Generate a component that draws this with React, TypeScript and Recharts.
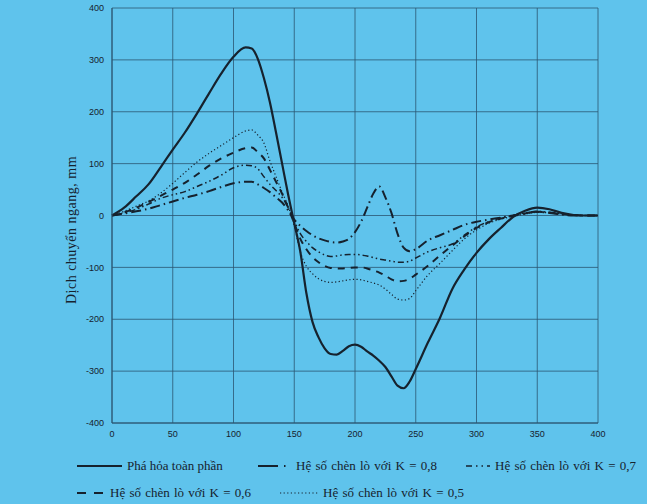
import { CartesianGrid, Line, LineChart, XAxis, YAxis, Label } from "recharts";

const xValues = [
  0, 10, 20, 30, 40, 50, 60, 70, 80, 90, 100,
  110, 115, 120, 125, 130, 135, 140, 145, 150, 155, 160, 165, 170, 175, 180,
  185, 190, 195, 200, 205, 210, 215, 220, 225, 230, 235, 240, 245, 250,
  260, 270, 280, 290, 300, 310, 320, 330, 340, 350, 360, 370, 380, 390, 400,
];

const fullCaving = [
  0, 15, 37, 60, 93, 127, 160, 197, 236, 274, 306,
  324, 322, 302, 265, 218, 160, 100, 40, -15, -70, -150, -205, -235, -256, -267,
  -268, -261, -252, -249, -253, -262, -270, -280, -292, -310, -328, -333, -320, -296,
  -245, -197, -142, -104, -72, -46, -24, -3, 9, 15, 12, 5, 1, 0, 0,
];

const k08 = [
  0, 4, 8, 13, 20, 27, 34, 40, 47, 55, 62,
  65, 65, 60, 53, 45, 35, 25, 10, -8, -20, -30, -38, -44, -48, -51,
  -52, -50, -45, -32, -12, 15, 42, 56, 35, 5, -35, -62, -69, -65,
  -48, -38, -28, -18, -12, -8, -4, 0, 4, 7, 5, 2, 0, 0, 0,
];

const k07 = [
  0, 5, 12, 22, 33, 40, 46, 56, 66, 78, 92,
  97, 96, 90, 75, 60, 48, 35, 15, -10, -35, -50, -62, -70, -76, -79,
  -78, -76, -75, -75, -76, -78, -81, -84, -86, -88, -90, -90, -88, -82,
  -70, -62, -55, -38, -22, -12, -5, 0, 5, 8, 6, 3, 1, 0, 0,
];

const k06 = [
  0, 6, 15, 26, 38, 50, 63, 79, 96, 110, 121,
  130, 131, 122, 110, 88, 65, 42, 15, -15, -45, -65, -80, -90, -97, -101,
  -102, -102, -101, -100, -100, -102, -106, -110, -116, -123, -127, -126, -122, -114,
  -97, -77, -58, -40, -24, -13, -6, -1, 4, 7, 6, 3, 1, 0, 0,
];

const k05 = [
  0, 8, 18, 28, 43, 62, 83, 103, 120, 135, 150,
  163, 165, 155, 140, 105, 75, 45, 18, -20, -70, -98, -112, -122, -127, -129,
  -128, -126, -124, -123, -124, -127, -130, -134, -142, -152, -161, -163, -160, -145,
  -115, -92, -68, -45, -28, -15, -7, -2, 3, 6, 5, 3, 1, 0, 0,
];

const xTicks = [0, 50, 100, 150, 200, 250, 300, 350, 400];
const yTicks = [-400, -300, -200, -100, 0, 100, 200, 300, 400];

const data = xValues.map((x, i) => ({
  x,
  full: fullCaving[i],
  k08: k08[i],
  k07: k07[i],
  k06: k06[i],
  k05: k05[i],
}));

const INK = "#16222e";
const BG = "#5fc3ec";
const serif = "'Liberation Serif', 'DejaVu Serif', serif";

function Sample({ width, dash, sw }: { width: number; dash?: string; sw: number }) {
  return (
    <svg width={width} height={8} style={{ display: "inline-block", verticalAlign: "middle" }}>
      <line x1={0} y1={4} x2={width} y2={4} stroke={INK} strokeWidth={sw} strokeDasharray={dash} />
    </svg>
  );
}

const legendText: React.CSSProperties = {
  position: "absolute",
  fontFamily: serif,
  fontSize: 13,
  lineHeight: "16px",
  color: INK,
  whiteSpace: "nowrap",
  display: "flex",
  alignItems: "center",
  gap: 5,
};

const kText: React.CSSProperties = { wordSpacing: 1 };

export default function App() {
  return (
    <div style={{ position: "fixed", left: 0, top: 0, width: 647, height: 504, background: BG }}>
      <LineChart width={647} height={504} data={data} margin={{ top: 8, right: 49, left: 0, bottom: 61 }}>
        <CartesianGrid stroke="#2b5672" strokeWidth={0.8} />
        <XAxis
          dataKey="x"
          type="number"
          domain={[0, 400]}
          ticks={xTicks}
          tick={{ fontSize: 9, fill: INK, fontFamily: "'Liberation Sans', Arial, sans-serif" }}
          tickLine={false}
          axisLine={{ stroke: "#2b5672" }}
          height={20}
        />
        <YAxis
          type="number"
          domain={[-400, 400]}
          ticks={yTicks}
          tick={{ fontSize: 9, fill: INK, fontFamily: "'Liberation Sans', Arial, sans-serif" }}
          tickLine={false}
          axisLine={{ stroke: "#2b5672" }}
          width={112}
        >
          <Label
            content={() => (
              <text
                x={76}
                y={230}
                transform="rotate(-90 76 230)"
                textAnchor="middle"
                style={{ fontFamily: serif, fontSize: 14, fill: INK, letterSpacing: 0.5 }}
              >
                Dịch chuyển ngang, mm
              </text>
            )}
          />
        </YAxis>
        <Line type="monotone" dataKey="k05" stroke={INK} strokeWidth={1.2} strokeDasharray="1.2 2.4" dot={false} isAnimationActive={false} />
        <Line type="monotone" dataKey="k06" stroke={INK} strokeWidth={2} strokeDasharray="7 6" dot={false} isAnimationActive={false} />
        <Line type="monotone" dataKey="k07" stroke={INK} strokeWidth={1.5} strokeDasharray="6 3 1.5 3 1.5 3" dot={false} isAnimationActive={false} />
        <Line type="monotone" dataKey="k08" stroke={INK} strokeWidth={2} strokeDasharray="10 4 1.5 4" dot={false} isAnimationActive={false} />
        <Line type="monotone" dataKey="full" stroke={INK} strokeWidth={2.2} dot={false} isAnimationActive={false} />
      </LineChart>
      <div style={{ ...legendText, left: 77, top: 458 }}>
        <Sample width={45} sw={2.2} />
        <span>Phá hỏa toàn phần</span>
      </div>
      <div style={{ ...legendText, left: 258, top: 458 }}>
        <Sample width={33} sw={2} dash="20 6 1.5 6" />
        <span style={kText}>Hệ số chèn lò với K = 0,8</span>
      </div>
      <div style={{ ...legendText, left: 466, top: 458 }}>
        <Sample width={24} sw={1.5} dash="6 4 1.5 4 1.5 4" />
        <span style={kText}>Hệ số chèn lò với K = 0,7</span>
      </div>
      <div style={{ ...legendText, left: 77, top: 485 }}>
        <Sample width={28} sw={2} dash="9 8" />
        <span style={kText}>Hệ số chèn lò với K = 0,6</span>
      </div>
      <div style={{ ...legendText, left: 280, top: 485 }}>
        <Sample width={38} sw={1.2} dash="1.2 2.4" />
        <span style={kText}>Hệ số chèn lò với K = 0,5</span>
      </div>
    </div>
  );
}
